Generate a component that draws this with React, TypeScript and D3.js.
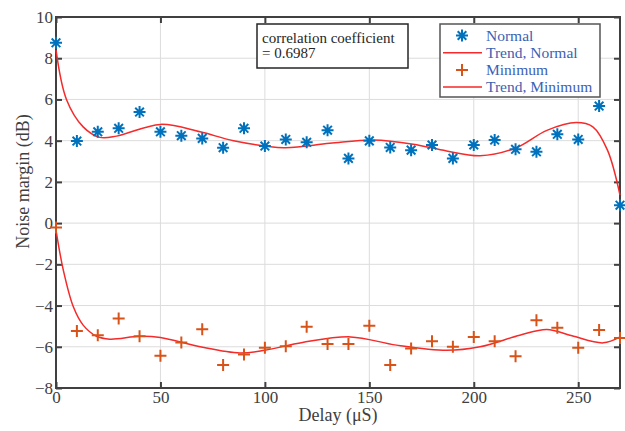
import { useEffect, useRef } from 'react'
import * as d3 from 'd3'

// measured points, one every 10 µS
const delays = [0, 10, 20, 30, 40, 50, 60, 70, 80, 90, 100, 110, 120, 130, 140, 150, 160, 170, 180, 190, 200, 210, 220, 230, 240, 250, 260, 270]
const normal = [8.75, 3.98, 4.43, 4.6, 5.39, 4.43, 4.24, 4.11, 3.66, 4.6, 3.74, 4.06, 3.92, 4.51, 3.14, 3.99, 3.67, 3.54, 3.79, 3.14, 3.79, 4.03, 3.58, 3.46, 4.31, 4.06, 5.68, 0.87]
const minimum = [-0.21, -5.23, -5.44, -4.63, -5.49, -6.44, -5.79, -5.15, -6.89, -6.37, -6.05, -5.97, -5.03, -5.87, -5.87, -4.98, -6.89, -6.08, -5.73, -6.0, -5.52, -5.73, -6.46, -4.71, -5.08, -6.05, -5.19, -5.57]

// trend curves
const trendNormalX = [0, 5, 13, 21, 29, 50, 69, 85, 109, 131, 152, 171, 187, 203, 220, 235, 249, 257, 264, 270]
const trendNormalY = [8.4, 6.0, 4.67, 4.16, 4.22, 4.79, 4.43, 4.0, 3.66, 3.87, 4.03, 3.83, 3.5, 3.27, 3.64, 4.5, 4.88, 4.67, 3.54, 1.36]
const trendMinX = [0, 3.5, 8.3, 13, 19.4, 25.8, 40, 50, 69, 88, 100, 118, 141, 163, 187, 203, 222, 235, 247, 262, 270]
const trendMinY = [-0.34, -2.28, -4.06, -4.95, -5.49, -5.63, -5.49, -5.55, -6.0, -6.3, -6.17, -5.79, -5.52, -5.92, -6.17, -6.0, -5.44, -5.16, -5.47, -5.81, -5.52]

const xTicks = [0, 50, 100, 150, 200, 250]
const yTicks = [-8, -6, -4, -2, 0, 2, 4, 6, 8, 10]

const legendItems = ['Normal', 'Trend, Normal', 'Minimum', 'Trend, Minimum']
const corrText = ['correlation coefficient', '= 0.6987']

const BLUE = '#0072bd'
const ORANGE = '#d95319'
const RED = '#f52a2a'
const AXIS = '#404040'
const FONT = 'Liberation Serif'

export default function App() {
  const svgRef = useRef<SVGSVGElement>(null)

  useEffect(() => {
    document.body.style.margin = '0'
    const svg = d3.select(svgRef.current)
    svg.selectAll('*').remove()
    const W = 625, H = 431
    svg.attr('width', W).attr('height', H)

    const L = 56, R = 620, T = 17, B = 388
    const x = d3.scaleLinear().domain([0, 270]).range([L, R])
    const y = d3.scaleLinear().domain([-8, 10]).range([B, T])

    svg.append('rect').attr('x', 0).attr('y', 0).attr('width', W).attr('height', H).attr('fill', '#fff')

    // grid
    const grid = svg.append('g').attr('stroke', '#dcdcdc').attr('stroke-width', 1)
    xTicks.filter(t => t > 0).forEach(t => grid.append('line').attr('x1', x(t)).attr('x2', x(t)).attr('y1', T).attr('y2', B))
    yTicks.filter(t => t > -8 && t < 10).forEach(t => grid.append('line').attr('x1', L).attr('x2', R).attr('y1', y(t)).attr('y2', y(t)))

    // axes (ticks inside, box on)
    const tk = 6
    const bottom = svg.append('g').attr('transform', `translate(0,${B})`).call(d3.axisBottom(x).tickValues(xTicks).tickSize(-tk).tickPadding(3))
    const top = svg.append('g').attr('transform', `translate(0,${T})`).call(d3.axisTop(x).tickValues(xTicks).tickSize(-tk).tickFormat(() => ''))
    const left = svg.append('g').attr('transform', `translate(${L},0)`).call(d3.axisLeft(y).tickValues(yTicks).tickSize(-tk).tickPadding(3))
    const right = svg.append('g').attr('transform', `translate(${R},0)`).call(d3.axisRight(y).tickValues(yTicks).tickSize(-tk).tickFormat(() => ''))
    for (const a of [bottom, top, left, right]) {
      a.attr('font-family', FONT).attr('font-size', 17)
      a.select('.domain').remove()
      a.selectAll('.tick line').attr('stroke', AXIS).attr('stroke-width', 2)
      a.selectAll('.tick text').attr('fill', AXIS).attr('font-family', FONT).attr('font-size', 17)
    }
    svg.append('rect').attr('x', L).attr('y', T).attr('width', R - L).attr('height', B - T)
      .attr('fill', 'none').attr('stroke', AXIS).attr('stroke-width', 2)

    // axis titles
    svg.append('text').attr('x', (L + R) / 2).attr('y', 421).attr('text-anchor', 'middle')
      .attr('fill', AXIS).attr('font-family', FONT).attr('font-size', 18).text('Delay (μS)')
    svg.append('text').attr('transform', `translate(29,${(T + B) / 2 - 21}) rotate(-90)`).attr('text-anchor', 'middle')
      .attr('fill', AXIS).attr('font-family', FONT).attr('font-size', 18).text('Noise margin (dB)')

    // trends
    const line = d3.line<[number, number]>().x(d => x(d[0])).y(d => y(d[1])).curve(d3.curveCatmullRom)
    svg.append('path').datum(trendNormalX.map((v, i) => [v, trendNormalY[i]] as [number, number]))
      .attr('d', line).attr('fill', 'none').attr('stroke', RED).attr('stroke-width', 1.5)
    svg.append('path').datum(trendMinX.map((v, i) => [v, trendMinY[i]] as [number, number]))
      .attr('d', line).attr('fill', 'none').attr('stroke', RED).attr('stroke-width', 1.5)

    const star = (g: d3.Selection<SVGGElement, unknown, null, undefined>, cx: number, cy: number) => {
      const r = 6, d = r * 0.72
      g.append('path').attr('d', `M${cx - r},${cy}H${cx + r}M${cx},${cy - r}V${cy + r}M${cx - d},${cy - d}L${cx + d},${cy + d}M${cx - d},${cy + d}L${cx + d},${cy - d}`)
        .attr('stroke', BLUE).attr('stroke-width', 2).attr('fill', 'none')
    }
    const plus = (g: d3.Selection<SVGGElement, unknown, null, undefined>, cx: number, cy: number) => {
      const r = 6
      g.append('path').attr('d', `M${cx - r},${cy}H${cx + r}M${cx},${cy - r}V${cy + r}`)
        .attr('stroke', ORANGE).attr('stroke-width', 2).attr('fill', 'none')
    }

    const marks = svg.append('g')
    delays.forEach((dl, i) => star(marks, x(dl), y(normal[i])))
    delays.forEach((dl, i) => plus(marks, x(dl), y(minimum[i])))

    // correlation text box
    const tb = svg.append('g')
    tb.append('rect').attr('x', 257).attr('y', 24).attr('width', 151).attr('height', 44)
      .attr('fill', '#fff').attr('stroke', '#262626').attr('stroke-width', 1.5)
    corrText.forEach((t, i) => tb.append('text').attr('x', 262).attr('y', 43 + i * 15)
      .attr('fill', '#262626').attr('font-family', FONT).attr('font-size', 15).text(t))

    // legend
    const lg = svg.append('g')
    lg.append('rect').attr('x', 440).attr('y', 24).attr('width', 160).attr('height', 73)
      .attr('fill', '#fff').attr('stroke', '#555').attr('stroke-width', 1.5)
    legendItems.forEach((t, i) => {
      const cy = 35.5 + i * 17.2
      if (i === 0) star(lg, 462, cy)
      else if (i === 2) plus(lg, 462, cy)
      else lg.append('line').attr('x1', 443).attr('x2', 482).attr('y1', cy).attr('y2', cy).attr('stroke', RED).attr('stroke-width', 1.5)
      lg.append('text').attr('x', 486).attr('y', cy + 5).attr('fill', '#3b62b4')
        .attr('font-family', FONT).attr('font-size', 15.5).text(t)
    })
  }, [])

  return <svg ref={svgRef} style={{ display: 'block' }} />
}
